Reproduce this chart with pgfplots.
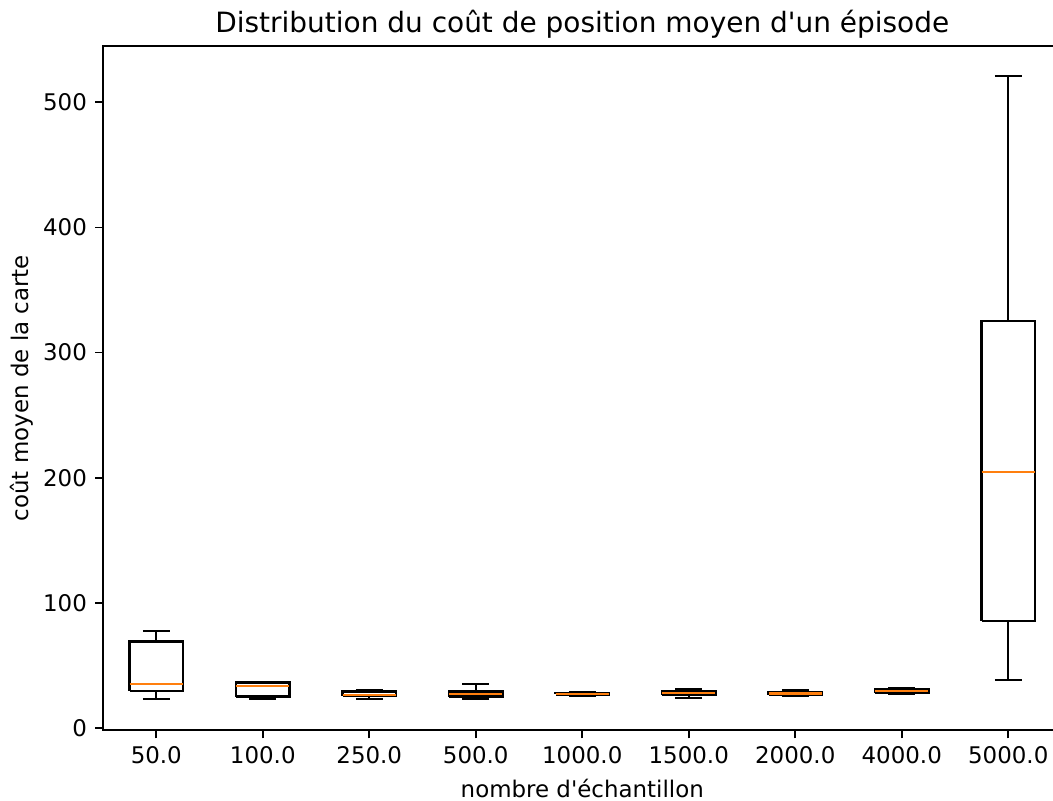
\documentclass[border=0pt]{standalone}
\usepackage{pgfplots}
\pgfplotsset{compat=1.18}
\usepackage{fontspec}
\setmainfont{DejaVu Sans}
\definecolor{mplorange}{HTML}{FF7F0E}
\begin{document}
\begin{tikzpicture}
\begin{axis}[
  name=ax,
  scale only axis,
  width=418.1pt, height=298.5pt,
  xmin=0.5, xmax=9.5,
  ymin=-1.9, ymax=545,
  unbounded coords=jump,
  axis line style={line width=0.8pt, black},
  tick pos=left,
  tick align=outside,
  major tick length=3.5pt,
  every tick/.style={black, line width=0.8pt},
  xtick={1,2,3,4,5,6,7,8,9},
  xticklabels={50.0,100.0,250.0,500.0,1000.0,1500.0,2000.0,4000.0,5000.0},
  ytick={0,100,200,300,400,500},
  /pgf/number format/assume math mode=true,
  tick label style={font=\fontsize{10pt}{12pt}\selectfont},
  label style={font=\fontsize{10pt}{12pt}\selectfont},
  xlabel={nombre d\textquotesingle échantillon},
  ylabel={coût moyen de la carte},
  every axis y label/.style={at={(rel axis cs:0,0.5)}, xshift=-35.3pt, rotate=90, anchor=center},
  bx/.style={black, mark=none, line width=1.05pt, line join=miter},
  md/.style={mplorange, mark=none, line width=1.05pt},
]
% 50.0 : lw 23.2, lq 29.5, med 35, uq 69, uw 77.5
\addplot[bx] coordinates {(0.75,29.5)(1.25,29.5)(1.25,69)(0.75,69)(0.75,29.5)(nan,nan)(1,29.5)(1,23.2)(nan,nan)(1,69)(1,77.5)(nan,nan)(0.875,23.2)(1.125,23.2)(nan,nan)(0.875,77.5)(1.125,77.5)};
\addplot[md] coordinates {(0.75,35)(1.25,35)};
% 100.0 : lw 23.2, lq 25, med 33.3, uq 36.2, uw 36.2
\addplot[bx] coordinates {(1.75,25)(2.25,25)(2.25,36.2)(1.75,36.2)(1.75,25)(nan,nan)(2,25)(2,23.2)(nan,nan)(2,36.2)(2,36.2)(nan,nan)(1.875,23.2)(2.125,23.2)(nan,nan)(1.875,36.2)(2.125,36.2)};
\addplot[md] coordinates {(1.75,33.3)(2.25,33.3)};
% 250.0 : lw 23, lq 25.3, med 26.4, uq 29, uw 30
\addplot[bx] coordinates {(2.75,25.3)(3.25,25.3)(3.25,29)(2.75,29)(2.75,25.3)(nan,nan)(3,25.3)(3,23)(nan,nan)(3,29)(3,30)(nan,nan)(2.875,23)(3.125,23)(nan,nan)(2.875,30)(3.125,30)};
\addplot[md] coordinates {(2.75,26.4)(3.25,26.4)};
% 500.0 : lw 23.4, lq 25, med 27.2, uq 29, uw 35.1
\addplot[bx] coordinates {(3.75,25)(4.25,25)(4.25,29)(3.75,29)(3.75,25)(nan,nan)(4,25)(4,23.4)(nan,nan)(4,29)(4,35.1)(nan,nan)(3.875,23.4)(4.125,23.4)(nan,nan)(3.875,35.1)(4.125,35.1)};
\addplot[md] coordinates {(3.75,27.2)(4.25,27.2)};
% 1000.0 : lw 25.5, lq 26.8, med 27.3, uq 28, uw 28.5
\addplot[bx] coordinates {(4.75,26.8)(5.25,26.8)(5.25,28)(4.75,28)(4.75,26.8)(nan,nan)(5,26.8)(5,25.5)(nan,nan)(5,28)(5,28.5)(nan,nan)(4.875,25.5)(5.125,25.5)(nan,nan)(4.875,28.5)(5.125,28.5)};
\addplot[md] coordinates {(4.75,27.3)(5.25,27.3)};
% 1500.0 : lw 23.7, lq 26.1, med 27.7, uq 29, uw 30.9
\addplot[bx] coordinates {(5.75,26.1)(6.25,26.1)(6.25,29)(5.75,29)(5.75,26.1)(nan,nan)(6,26.1)(6,23.7)(nan,nan)(6,29)(6,30.9)(nan,nan)(5.875,23.7)(6.125,23.7)(nan,nan)(5.875,30.9)(6.125,30.9)};
\addplot[md] coordinates {(5.75,27.7)(6.25,27.7)};
% 2000.0 : lw 25.6, lq 26.4, med 27.4, uq 28.8, uw 29.8
\addplot[bx] coordinates {(6.75,26.4)(7.25,26.4)(7.25,28.8)(6.75,28.8)(6.75,26.4)(nan,nan)(7,26.4)(7,25.6)(nan,nan)(7,28.8)(7,29.8)(nan,nan)(6.875,25.6)(7.125,25.6)(nan,nan)(6.875,29.8)(7.125,29.8)};
\addplot[md] coordinates {(6.75,27.4)(7.25,27.4)};
% 4000.0 : lw 26.9, lq 27.7, med 29.3, uq 30.9, uw 32
\addplot[bx] coordinates {(7.75,27.7)(8.25,27.7)(8.25,30.9)(7.75,30.9)(7.75,27.7)(nan,nan)(8,27.7)(8,26.9)(nan,nan)(8,30.9)(8,32)(nan,nan)(7.875,26.9)(8.125,26.9)(nan,nan)(7.875,32)(8.125,32)};
\addplot[md] coordinates {(7.75,29.3)(8.25,29.3)};
% 5000.0 : lw 38.3, lq 85.5, med 204.5, uq 325, uw 520.8
\addplot[bx] coordinates {(8.75,85.5)(9.25,85.5)(9.25,325)(8.75,325)(8.75,85.5)(nan,nan)(9,85.5)(9,38.3)(nan,nan)(9,325)(9,520.8)(nan,nan)(8.875,38.3)(9.125,38.3)(nan,nan)(8.875,520.8)(9.125,520.8)};
\addplot[md] coordinates {(8.75,204.5)(9.25,204.5)};
\end{axis}
\node[anchor=base, inner sep=0pt, font=\fontsize{12.2pt}{14pt}\selectfont] at ([shift={(0pt,5.9pt)}]ax.north) {Distribution du coût de position moyen d\textquotesingle un épisode};
\pgfresetboundingbox
\useasboundingbox ([shift={(-44.95pt,-30.55pt)}]ax.south west) rectangle ([shift={(-3.7pt,20.07pt)}]ax.north east);
\end{tikzpicture}
\end{document}
